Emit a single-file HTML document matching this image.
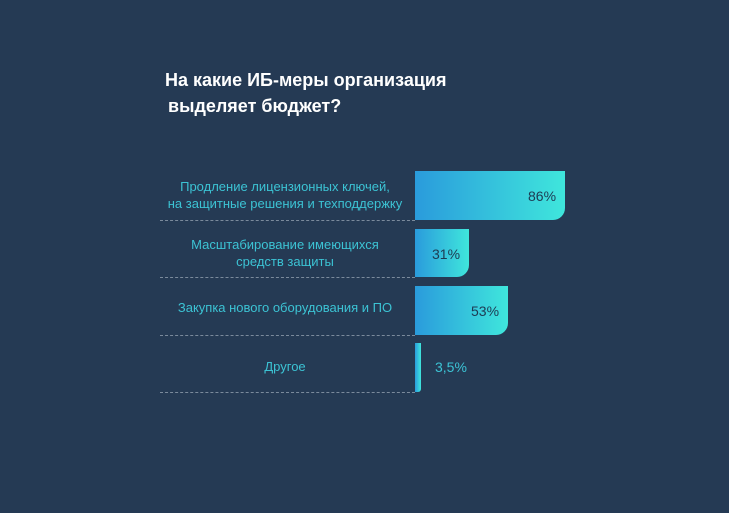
<!DOCTYPE html>
<html><head><meta charset="utf-8"><style>
body{margin:0;width:729px;height:513px;background:#253a54;overflow:hidden;font-family:"Liberation Sans","DejaVu Sans",sans-serif;position:relative}
.t{position:absolute;left:165px;color:#fff;font-size:18px;font-weight:bold;white-space:nowrap;letter-spacing:0}
.l{position:absolute;color:#3cc3d4;font-size:13px;text-align:center;line-height:17px;white-space:nowrap}
.b{position:absolute;left:415px;background:linear-gradient(90deg,#2a9bdc,#3fe6dc);border-radius:0 0 12px 0}
.v{position:absolute;color:#1e3a52;font-size:14px}
.d{position:absolute;left:160px;width:255px;border-top:1.5px dashed #7b8a9c;height:0}
</style></head><body>
<div class="t" style="top:70px">На какие ИБ-меры организация</div>
<div class="t" style="top:96px;left:168px">выделяет бюджет?</div>

<div class="b" style="top:171px;width:150px;height:49px"></div>
<div class="v" style="left:528px;top:188px">86%</div>
<div class="l" style="left:160px;width:250px;top:178px">Продление лицензионных ключей,<br>на защитные решения и техподдержку</div>
<div class="d" style="top:220px"></div>

<div class="b" style="top:229px;width:54px;height:48px"></div>
<div class="v" style="left:432px;top:246px">31%</div>
<div class="l" style="left:160px;width:250px;top:236px">Масштабирование имеющихся<br>средств защиты</div>
<div class="d" style="top:277px"></div>

<div class="b" style="top:286px;width:93px;height:49px"></div>
<div class="v" style="left:471px;top:303px">53%</div>
<div class="l" style="left:160px;width:250px;top:299px">Закупка нового оборудования и ПО</div>
<div class="d" style="top:335px"></div>

<div class="b" style="top:343px;width:6px;height:49px;border-radius:0 0 3px 0"></div>
<div class="v" style="left:435px;top:359px;color:#3cc3d4">3,5%</div>
<div class="l" style="left:160px;width:250px;top:358px">Другое</div>
<div class="d" style="top:392px"></div>
</body></html>
